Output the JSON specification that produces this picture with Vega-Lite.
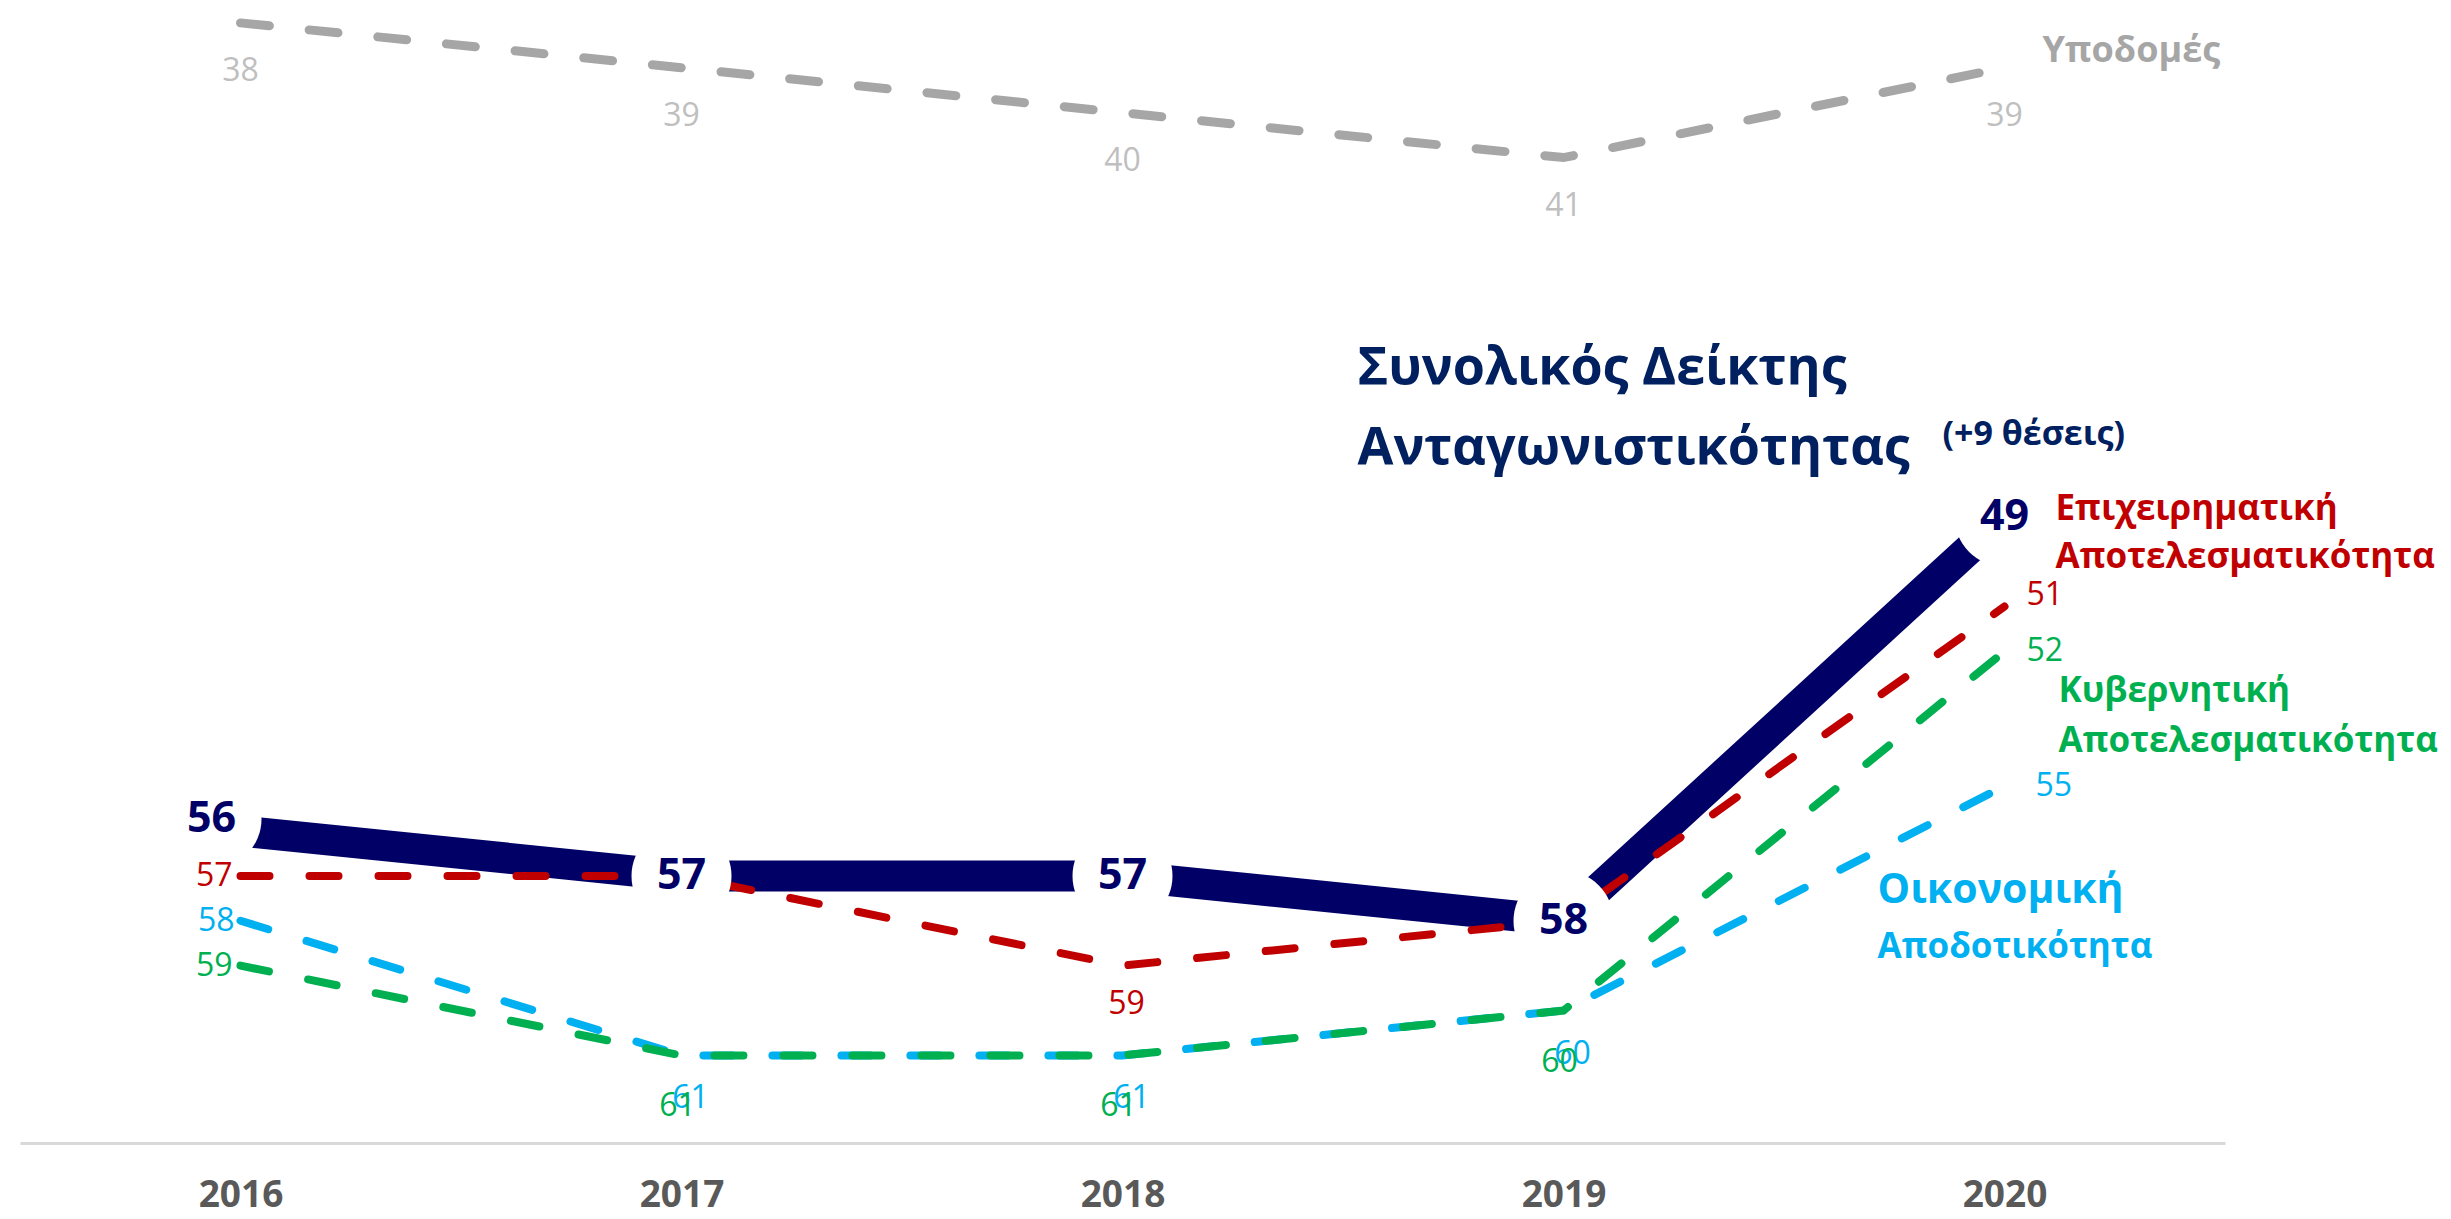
{
  "$schema": "https://vega.github.io/schema/vega-lite/v6.json",
  "width": 2205,
  "height": 1143,
  "autosize": {"type": "none"},
  "padding": {"left": 20, "top": 0, "right": 226, "bottom": 76},
  "background": "white",
  "config": {"view": {"stroke": null}, "font": "Open Sans"},
  "data": {
    "values": [
      {"series": "Υποδομές", "year": 2016, "rank": 38},
      {"series": "Υποδομές", "year": 2017, "rank": 39},
      {"series": "Υποδομές", "year": 2018, "rank": 40},
      {"series": "Υποδομές", "year": 2019, "rank": 41},
      {"series": "Υποδομές", "year": 2020, "rank": 39},
      {"series": "Συνολικός Δείκτης Ανταγωνιστικότητας", "year": 2016, "rank": 56},
      {"series": "Συνολικός Δείκτης Ανταγωνιστικότητας", "year": 2017, "rank": 57},
      {"series": "Συνολικός Δείκτης Ανταγωνιστικότητας", "year": 2018, "rank": 57},
      {"series": "Συνολικός Δείκτης Ανταγωνιστικότητας", "year": 2019, "rank": 58},
      {"series": "Συνολικός Δείκτης Ανταγωνιστικότητας", "year": 2020, "rank": 49},
      {"series": "Επιχειρηματική Αποτελεσματικότητα", "year": 2016, "rank": 57},
      {"series": "Επιχειρηματική Αποτελεσματικότητα", "year": 2017, "rank": 57},
      {"series": "Επιχειρηματική Αποτελεσματικότητα", "year": 2018, "rank": 59},
      {"series": "Επιχειρηματική Αποτελεσματικότητα", "year": 2019, "rank": 58},
      {"series": "Επιχειρηματική Αποτελεσματικότητα", "year": 2020, "rank": 51},
      {"series": "Κυβερνητική Αποτελεσματικότητα", "year": 2016, "rank": 59},
      {"series": "Κυβερνητική Αποτελεσματικότητα", "year": 2017, "rank": 61},
      {"series": "Κυβερνητική Αποτελεσματικότητα", "year": 2018, "rank": 61},
      {"series": "Κυβερνητική Αποτελεσματικότητα", "year": 2019, "rank": 60},
      {"series": "Κυβερνητική Αποτελεσματικότητα", "year": 2020, "rank": 52},
      {"series": "Οικονομική Αποδοτικότητα", "year": 2016, "rank": 58},
      {"series": "Οικονομική Αποδοτικότητα", "year": 2017, "rank": 61},
      {"series": "Οικονομική Αποδοτικότητα", "year": 2018, "rank": 61},
      {"series": "Οικονομική Αποδοτικότητα", "year": 2019, "rank": 60},
      {"series": "Οικονομική Αποδοτικότητα", "year": 2020, "rank": 55}
    ]
  },
  "encoding": {
    "x": {
      "field": "year",
      "type": "quantitative",
      "scale": {"domain": [2015.5, 2020.5], "nice": false, "zero": false},
      "axis": {
        "title": null,
        "values": [2016, 2017, 2018, 2019, 2020],
        "format": "d",
        "grid": false,
        "ticks": false,
        "tickSize": 0,
        "domainColor": "#D9D9D9",
        "domainWidth": 3,
        "labelFont": "Open Sans",
        "labelFontWeight": "bold",
        "labelFontSize": 37,
        "labelColor": "#595959",
        "labelPadding": 34,
        "labelFlush": false
      }
    },
    "y": {
      "field": "rank",
      "type": "quantitative",
      "scale": {"domain": [37.49, 62.95], "reverse": true, "nice": false, "zero": false},
      "axis": null
    }
  },
  "layer": [
    {
      "transform": [{"filter": {"field": "series", "equal": "Υποδομές"}}],
      "mark": {"type": "line", "color": "#A6A6A6", "strokeWidth": 9, "strokeDash": [29, 40], "strokeCap": "round"},
      "encoding": {}
    },
    {
      "transform": [{"filter": {"field": "series", "equal": "Συνολικός Δείκτης Ανταγωνιστικότητας"}}],
      "mark": {"type": "line", "color": "#000066", "strokeWidth": 31, "strokeCap": "butt"},
      "encoding": {}
    },
    {
      "transform": [{"filter": {"field": "series", "equal": "Οικονομική Αποδοτικότητα"}}],
      "mark": {"type": "line", "color": "#00B0F0", "strokeWidth": 8, "strokeDash": [29, 40], "strokeCap": "round"},
      "encoding": {}
    },
    {
      "transform": [{"filter": {"field": "series", "equal": "Κυβερνητική Αποτελεσματικότητα"}}],
      "mark": {"type": "line", "color": "#00B050", "strokeWidth": 8, "strokeDash": [29, 40], "strokeCap": "round"},
      "encoding": {}
    },
    {
      "transform": [{"filter": {"field": "series", "equal": "Επιχειρηματική Αποτελεσματικότητα"}}],
      "mark": {"type": "line", "color": "#C00000", "strokeWidth": 8, "strokeDash": [29, 40], "strokeCap": "round"},
      "encoding": {}
    },
    {
      "transform": [{"filter": {"and": [{"field": "series", "equal": "Συνολικός Δείκτης Ανταγωνιστικότητας"}, {"field": "year", "oneOf": [2017, 2018, 2019, 2020]}]}}],
      "mark": {"type": "point", "shape": "circle", "filled": true, "color": "white", "opacity": 1, "size": 10000, "strokeWidth": 0},
      "encoding": {}
    },
    {
      "transform": [{"filter": {"and": [{"field": "series", "equal": "Συνολικός Δείκτης Ανταγωνιστικότητας"}, {"field": "year", "equal": 2016}]}}],
      "mark": {"type": "point", "shape": "circle", "filled": true, "color": "white", "opacity": 1, "size": 10000, "strokeWidth": 0, "xOffset": -29, "yOffset": -12},
      "encoding": {}
    },
    {
      "transform": [{"filter": {"and": [{"field": "series", "equal": "Συνολικός Δείκτης Ανταγωνιστικότητας"}, {"field": "year", "oneOf": [2017, 2018, 2019, 2020]}]}}],
      "mark": {"type": "text", "font": "Open Sans", "fontWeight": "bold", "fontSize": 43, "color": "#000066", "align": "center", "baseline": "middle"},
      "encoding": {"text": {"field": "rank", "type": "quantitative"}}
    },
    {
      "transform": [{"filter": {"and": [{"field": "series", "equal": "Συνολικός Δείκτης Ανταγωνιστικότητας"}, {"field": "year", "equal": 2016}]}}],
      "mark": {"type": "text", "font": "Open Sans", "fontWeight": "bold", "fontSize": 43, "color": "#000066", "align": "center", "baseline": "middle", "dx": -29, "dy": -12},
      "encoding": {"text": {"field": "rank", "type": "quantitative"}}
    },
    {
      "transform": [{"filter": {"field": "series", "equal": "Υποδομές"}}],
      "mark": {"type": "text", "font": "Open Sans", "fontSize": 32, "color": "#BFBFBF", "align": "center", "baseline": "middle", "dy": 48},
      "encoding": {"text": {"field": "rank", "type": "quantitative"}}
    },
    {
      "transform": [{"filter": {"and": [{"field": "series", "equal": "Επιχειρηματική Αποτελεσματικότητα"}, {"field": "year", "equal": 2016}]}}],
      "mark": {"type": "text", "font": "Open Sans", "fontSize": 32, "color": "#C00000", "align": "right", "baseline": "middle", "dx": -8},
      "encoding": {"text": {"field": "rank", "type": "quantitative"}}
    },
    {
      "transform": [{"filter": {"and": [{"field": "series", "equal": "Επιχειρηματική Αποτελεσματικότητα"}, {"field": "year", "equal": 2018}]}}],
      "mark": {"type": "text", "font": "Open Sans", "fontSize": 32, "color": "#C00000", "align": "center", "baseline": "middle", "dx": 4, "dy": 38},
      "encoding": {"text": {"field": "rank", "type": "quantitative"}}
    },
    {
      "transform": [{"filter": {"and": [{"field": "series", "equal": "Επιχειρηματική Αποτελεσματικότητα"}, {"field": "year", "equal": 2020}]}}],
      "mark": {"type": "text", "font": "Open Sans", "fontSize": 32, "color": "#C00000", "align": "left", "baseline": "middle", "dx": 22, "dy": -12},
      "encoding": {"text": {"field": "rank", "type": "quantitative"}}
    },
    {
      "transform": [{"filter": {"and": [{"field": "series", "equal": "Οικονομική Αποδοτικότητα"}, {"field": "year", "equal": 2016}]}}],
      "mark": {"type": "text", "font": "Open Sans", "fontSize": 32, "color": "#00B0F0", "align": "right", "baseline": "middle", "dx": -6},
      "encoding": {"text": {"field": "rank", "type": "quantitative"}}
    },
    {
      "transform": [{"filter": {"and": [{"field": "series", "equal": "Οικονομική Αποδοτικότητα"}, {"field": "year", "oneOf": [2017, 2018, 2019]}]}}],
      "mark": {"type": "text", "font": "Open Sans", "fontSize": 32, "color": "#00B0F0", "align": "center", "baseline": "middle", "dx": 9, "dy": 43},
      "encoding": {"text": {"field": "rank", "type": "quantitative"}}
    },
    {
      "transform": [{"filter": {"and": [{"field": "series", "equal": "Οικονομική Αποδοτικότητα"}, {"field": "year", "equal": 2020}]}}],
      "mark": {"type": "text", "font": "Open Sans", "fontSize": 32, "color": "#00B0F0", "align": "left", "baseline": "middle", "dx": 31},
      "encoding": {"text": {"field": "rank", "type": "quantitative"}}
    },
    {
      "transform": [{"filter": {"and": [{"field": "series", "equal": "Κυβερνητική Αποτελεσματικότητα"}, {"field": "year", "equal": 2016}]}}],
      "mark": {"type": "text", "font": "Open Sans", "fontSize": 32, "color": "#00B050", "align": "right", "baseline": "middle", "dx": -8},
      "encoding": {"text": {"field": "rank", "type": "quantitative"}}
    },
    {
      "transform": [{"filter": {"and": [{"field": "series", "equal": "Κυβερνητική Αποτελεσματικότητα"}, {"field": "year", "oneOf": [2017, 2018, 2019]}]}}],
      "mark": {"type": "text", "font": "Open Sans", "fontSize": 32, "color": "#00B050", "align": "center", "baseline": "middle", "dx": -4, "dy": 51},
      "encoding": {"text": {"field": "rank", "type": "quantitative"}}
    },
    {
      "transform": [{"filter": {"and": [{"field": "series", "equal": "Κυβερνητική Αποτελεσματικότητα"}, {"field": "year", "equal": 2020}]}}],
      "mark": {"type": "text", "font": "Open Sans", "fontSize": 32, "color": "#00B050", "align": "left", "baseline": "middle", "dx": 22},
      "encoding": {"text": {"field": "rank", "type": "quantitative"}}
    },
    {
      "transform": [{"filter": {"and": [{"field": "series", "equal": "Υποδομές"}, {"field": "year", "equal": 2020}]}}],
      "mark": {"type": "text", "text": "Υποδομές", "font": "Open Sans", "fontWeight": "bold", "fontSize": 36, "color": "#A6A6A6", "align": "left", "baseline": "alphabetic", "dx": 38, "dy": -6},
      "encoding": {}
    },
    {
      "transform": [{"filter": {"and": [{"field": "series", "equal": "Συνολικός Δείκτης Ανταγωνιστικότητας"}, {"field": "year", "equal": 2020}]}}],
      "mark": {"type": "text", "text": ["Συνολικός Δείκτης", "Ανταγωνιστικότητας"], "lineHeight": 80, "font": "Open Sans", "fontWeight": "bold", "fontSize": 52, "color": "#002060", "align": "left", "baseline": "alphabetic", "dx": -647, "dy": -133},
      "encoding": {}
    },
    {
      "transform": [{"filter": {"and": [{"field": "series", "equal": "Συνολικός Δείκτης Ανταγωνιστικότητας"}, {"field": "year", "equal": 2020}]}}],
      "mark": {"type": "text", "text": "(+9 θέσεις)", "font": "Open Sans", "fontWeight": "bold", "fontSize": 34, "color": "#002060", "align": "left", "baseline": "middle", "dx": -62, "dy": -82},
      "encoding": {}
    },
    {
      "transform": [{"filter": {"and": [{"field": "series", "equal": "Επιχειρηματική Αποτελεσματικότητα"}, {"field": "year", "equal": 2020}]}}],
      "mark": {"type": "text", "text": ["Επιχειρηματική", "Αποτελεσματικότητα"], "lineHeight": 48, "font": "Open Sans", "fontWeight": "bold", "fontSize": 35, "color": "#C00000", "align": "left", "baseline": "alphabetic", "dx": 51, "dy": -87},
      "encoding": {}
    },
    {
      "transform": [{"filter": {"and": [{"field": "series", "equal": "Κυβερνητική Αποτελεσματικότητα"}, {"field": "year", "equal": 2020}]}}],
      "mark": {"type": "text", "text": ["Κυβερνητική", "Αποτελεσματικότητα"], "lineHeight": 50, "font": "Open Sans", "fontWeight": "bold", "fontSize": 35, "color": "#00B050", "align": "left", "baseline": "alphabetic", "dx": 54, "dy": 51},
      "encoding": {}
    },
    {
      "transform": [{"filter": {"and": [{"field": "series", "equal": "Οικονομική Αποδοτικότητα"}, {"field": "year", "equal": 2020}]}}],
      "mark": {"type": "text", "text": "Οικονομική", "font": "Open Sans", "fontWeight": "bold", "fontSize": 41, "color": "#00B0F0", "align": "left", "baseline": "alphabetic", "dx": -127, "dy": 117},
      "encoding": {}
    },
    {
      "transform": [{"filter": {"and": [{"field": "series", "equal": "Οικονομική Αποδοτικότητα"}, {"field": "year", "equal": 2020}]}}],
      "mark": {"type": "text", "text": "Αποδοτικότητα", "font": "Open Sans", "fontWeight": "bold", "fontSize": 35, "color": "#00B0F0", "align": "left", "baseline": "alphabetic", "dx": -127, "dy": 172},
      "encoding": {}
    }
  ]
}
